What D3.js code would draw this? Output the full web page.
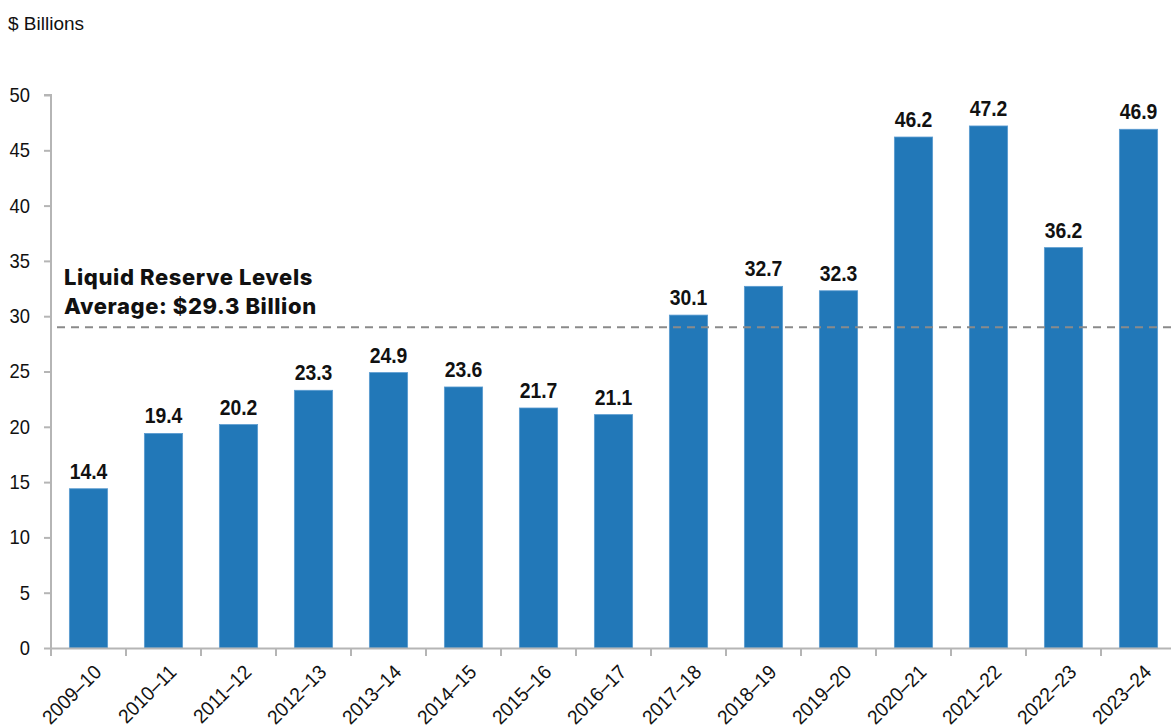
<!DOCTYPE html>
<html><head><meta charset="utf-8">
<script src="https://cdn.jsdelivr.net/npm/d3@7"></script>
<style>body{margin:0;background:#fff}svg{display:block}</style>
</head><body>
<svg id="c" width="1171" height="727"></svg>
<script>
const categories = ["2009–10","2010–11","2011–12","2012–13","2013–14","2014–15","2015–16","2016–17","2017–18","2018–19","2019–20","2020–21","2021–22","2022–23","2023–24"];
const values = [14.4,19.4,20.2,23.3,24.9,23.6,21.7,21.1,30.1,32.7,32.3,46.2,47.2,36.2,46.9];
const yTicks = [0,5,10,15,20,25,30,35,40,45,50];
const averageLine = 29.0;   // where the dashed line sits in the picture
const unitLabel = "$ Billions";
const noteLines = ["Liquid Reserve Levels","Average: $29.3 Billion"];

const svg = d3.select("#c");
const x0 = 51, plotW = 75*15, yBottom = 648, yTop = 95;
const x = d3.scaleBand().domain(categories).range([x0, x0+plotW]).paddingInner(0.49).paddingOuter(0.245);
const xb = d3.scaleBand().domain(categories).range([x0, x0+plotW]);
const y = d3.scaleLinear().domain([0,50]).range([yBottom, yTop]);
const sans = "'Liberation Sans',Arial,sans-serif";
const axisCol = "#b5b5b5";

svg.append("text").attr("x",8).attr("y",30).attr("font-family",sans)
  .attr("font-size",19).attr("fill","#111").text(unitLabel);

// y axis
const ya = svg.append("g").attr("transform",`translate(${x0},0)`)
  .call(d3.axisLeft(y).tickValues(yTicks).tickSize(7).tickPadding(13));
ya.select(".domain").attr("stroke",axisCol).attr("stroke-width",2).attr("d",`M-7,${yTop}H0V${yBottom}`);
ya.selectAll(".tick line").attr("stroke",axisCol).attr("stroke-width",2);
ya.selectAll(".tick text").attr("font-family",sans).attr("font-size",20).attr("fill","#111")
  .attr("transform","scale(0.92,1)").attr("x",-21/0.92);

// bars
svg.append("g").selectAll("rect").data(values).join("rect")
  .attr("x",(d,i)=>x(categories[i])).attr("width",x.bandwidth())
  .attr("y",d=>y(d)).attr("height",d=>yBottom-y(d))
  .attr("fill","#2278b8").attr("stroke","#5a9bd0").attr("stroke-width",0.8);

// x axis
const xa = svg.append("g").attr("transform",`translate(0,${yBottom})`)
  .call(d3.axisBottom(xb).tickSize(0).tickFormat(""));
xa.select(".domain").attr("stroke",axisCol).attr("stroke-width",2);
svg.append("g").selectAll("line").data(categories).join("line")
  .attr("x1",c=>xb(c)).attr("x2",c=>xb(c)).attr("y1",yBottom).attr("y2",yBottom+8)
  .attr("stroke",axisCol).attr("stroke-width",2);
svg.append("g").selectAll("text").data(categories).join("text")
  .attr("transform",c=>`translate(${xb(c)+xb.bandwidth()/2+4},${yBottom+15}) rotate(-45) scale(0.95,1)`)
  .attr("text-anchor","end").attr("dy","0.72em")
  .attr("font-family",sans).attr("font-size",20).attr("fill","#111")
  .text(d=>d);

// average line
svg.append("line").attr("x1",x0+6).attr("x2",1171).attr("y1",y(averageLine)).attr("y2",y(averageLine))
  .attr("stroke","#8a8a8a").attr("stroke-width",2).attr("stroke-dasharray","8,6");

// value labels
svg.append("g").selectAll("text").data(values).join("text")
  .attr("transform",(d,i)=>`translate(${x(categories[i])+x.bandwidth()/2},${y(d)-10}) scale(0.88,1)`)
  .attr("text-anchor","middle").attr("font-family",sans).attr("font-weight","bold")
  .attr("font-size",22).attr("fill","#111").text(d=>d.toFixed(1));

// note
svg.append("g").selectAll("text").data(noteLines).join("text")
  .attr("x",64).attr("y",(d,i)=>285+i*29)
  .attr("font-family","Inter,'Open Sans',sans-serif").attr("font-weight",800)
  .attr("font-size",22).attr("letter-spacing",0.6).attr("fill","#111").text(d=>d);
</script>
</body></html>
